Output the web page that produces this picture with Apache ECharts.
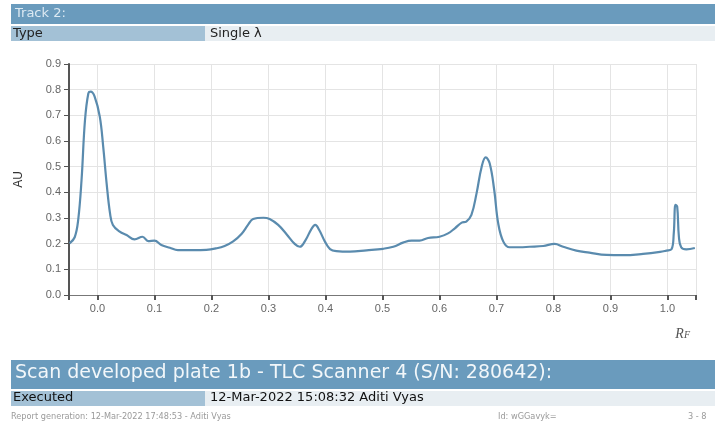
<!DOCTYPE html>
<html>
<head>
<meta charset="utf-8">
<script src="https://cdn.jsdelivr.net/npm/echarts@6/dist/echarts.min.js"></script>
<style>
html,body{margin:0;padding:0;background:#fff;}
#chart{width:715px;height:428px;}
</style>
</head>
<body>
<div id="chart"></div>
<script>
// Data
const rfValues = [-0.049,-0.04,-0.034,-0.028,-0.022,-0.016,-0.012,-0.005,0.004,0.010,0.016,0.022,0.027,0.039,0.051,0.065,0.079,0.089,0.100,0.112,0.127,0.141,0.168,0.191,0.209,0.223,0.238,0.253,0.264,0.273,0.291,0.302,0.317,0.332,0.346,0.355,0.365,0.375,0.382,0.389,0.399,0.408,0.419,0.443,0.472,0.501,0.519,0.536,0.551,0.565,0.580,0.600,0.615,0.627,0.639,0.647,0.656,0.665,0.674,0.681,0.688,0.696,0.703,0.712,0.723,0.741,0.758,0.782,0.802,0.817,0.840,0.863,0.893,0.922,0.957,0.987,0.998,1.007,1.011,1.014,1.017,1.020,1.024,1.033,1.048];
const auValues = [0.201,0.225,0.290,0.448,0.680,0.786,0.792,0.773,0.695,0.578,0.435,0.318,0.273,0.247,0.234,0.217,0.227,0.210,0.212,0.195,0.184,0.175,0.175,0.176,0.182,0.191,0.209,0.239,0.273,0.296,0.301,0.296,0.273,0.236,0.199,0.188,0.214,0.256,0.273,0.253,0.208,0.179,0.171,0.169,0.174,0.180,0.188,0.204,0.212,0.212,0.222,0.227,0.240,0.260,0.282,0.286,0.312,0.396,0.500,0.536,0.513,0.409,0.279,0.208,0.186,0.186,0.188,0.191,0.199,0.188,0.173,0.165,0.156,0.155,0.160,0.168,0.173,0.178,0.240,0.351,0.344,0.227,0.186,0.178,0.183];
const xTickValues = [0.0,0.1,0.2,0.3,0.4,0.5,0.6,0.7,0.8,0.9,1.0];
const xTickMarks = [-0.05,0.0,0.1,0.2,0.3,0.4,0.5,0.6,0.7,0.8,0.9,1.0,1.05];
const yTickValues = [0.0,0.1,0.2,0.3,0.4,0.5,0.6,0.7,0.8,0.9];

const seriesData = rfValues.map((x, i) => [x, auValues[i]]);

const barBlue = '#6a9bbd';
const cellBlue = '#a3c1d6';
const rowLight = '#e8eef2';
const headFont = '"DejaVu Sans", Verdana, sans-serif';

const chart = echarts.init(document.getElementById('chart'), null, {renderer: 'canvas'});
chart.setOption({
  backgroundColor: '#ffffff',
  animation: false,
  grid: {left: 69, right: 19, top: 64, bottom: 133, containLabel: false},
  xAxis: {
    type: 'value',
    min: -0.05,
    max: 1.05,
    name: 'R{f|F}',
    nameLocation: 'end',
    nameGap: 0,
    nameTextStyle: {
      fontFamily: '"Liberation Serif", serif', fontStyle: 'italic', fontSize: 14, color: '#555',
      align: 'right', verticalAlign: 'top', padding: [32, 6, 0, 0],
      rich: {f: {fontFamily: '"Liberation Serif", serif', fontStyle: 'italic', fontSize: 10, color: '#555', padding: [3, 0, 0, 0]}}
    },
    axisLine: {show: true, onZero: false, lineStyle: {color: '#777', width: 1}},
    axisTick: {show: true, length: 5, customValues: xTickMarks, lineStyle: {color: '#555', width: 2}},
    axisLabel: {customValues: xTickValues, formatter: v => v.toFixed(1), color: '#666', fontSize: 11, fontFamily: '"Liberation Sans", Arial, sans-serif', margin: 8},
    splitLine: {show: true, lineStyle: {color: '#e4e4e4', width: 1}}
  },
  yAxis: {
    type: 'value',
    min: 0,
    max: 0.9,
    interval: 0.1,
    name: 'AU',
    nameLocation: 'middle',
    nameGap: 44,
    nameRotate: 90,
    nameTextStyle: {color: '#333', fontSize: 12, fontFamily: '"Liberation Sans", Arial, sans-serif'},
    axisLine: {show: true, onZero: false, lineStyle: {color: '#555', width: 2}},
    axisTick: {show: true, length: 5, customValues: yTickValues, lineStyle: {color: '#555', width: 1}},
    axisLabel: {customValues: yTickValues, formatter: v => v.toFixed(1), color: '#666', fontSize: 11, fontFamily: '"Liberation Sans", Arial, sans-serif', margin: 8},
    splitLine: {show: true, lineStyle: {color: '#e4e4e4', width: 1}}
  },
  series: [{
    type: 'line',
    data: seriesData,
    showSymbol: false,
    symbol: 'none',
    smooth: 0.4,
    lineStyle: {color: '#5a8bae', width: 2.2},
    z: 5
  }],
  graphic: [
    {type: 'rect', left: 11, top: 4, shape: {width: 704, height: 20}, style: {fill: barBlue}},
    {type: 'text', left: 15, top: 7, style: {text: 'Track 2:', fill: '#dce9f2', font: '13px ' + headFont}},
    {type: 'rect', left: 11, top: 26, shape: {width: 194, height: 15}, style: {fill: cellBlue}},
    {type: 'rect', left: 205, top: 26, shape: {width: 510, height: 15}, style: {fill: rowLight}},
    {type: 'text', left: 13, top: 27, style: {text: 'Type', fill: '#222', font: '13px ' + headFont}},
    {type: 'text', left: 210, top: 27, style: {text: 'Single λ', fill: '#222', font: '13px ' + headFont}},
    {type: 'rect', left: 11, top: 360, shape: {width: 704, height: 29}, style: {fill: barBlue}},
    {type: 'text', left: 15, top: 364, style: {text: 'Scan developed plate 1b - TLC Scanner 4 (S/N: 280642):', fill: '#f2f7fa', font: '19px ' + headFont}},
    {type: 'rect', left: 11, top: 391, shape: {width: 194, height: 15}, style: {fill: cellBlue}},
    {type: 'rect', left: 205, top: 391, shape: {width: 510, height: 15}, style: {fill: rowLight}},
    {type: 'text', left: 13, top: 391, style: {text: 'Executed', fill: '#111', font: '13px ' + headFont}},
    {type: 'text', left: 210, top: 391, style: {text: '12-Mar-2022 15:08:32 Aditi Vyas', fill: '#111', font: '13px ' + headFont}},
    {type: 'text', left: 11, top: 413, style: {text: 'Report generation: 12-Mar-2022 17:48:53 - Aditi Vyas', fill: '#9a9a9a', font: '8.2px ' + headFont}},
    {type: 'text', left: 498, top: 413, style: {text: 'Id: wGGavyk=', fill: '#9a9a9a', font: '8.2px ' + headFont}},
    {type: 'text', left: 688, top: 413, style: {text: '3 - 8', fill: '#9a9a9a', font: '8.2px ' + headFont}}
  ]
});
</script>
</body>
</html>
